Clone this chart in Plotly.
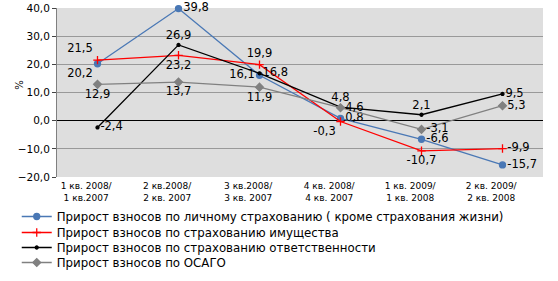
import plotly.graph_objects as go

categories = ["1 кв. 2008/<br>1 кв.2007", "2 кв.2008/<br>2 кв. 2007", "3 кв.2008/<br>3 кв. 2007",
              "4 кв. 2008/<br>4 кв. 2007", "1 кв. 2009/<br>1 кв. 2008", "2 кв. 2009/<br>2 кв. 2008"]
personal = [20.2, 39.8, 16.1, 0.8, -6.6, -15.7]
prop = [21.5, 23.2, 19.9, -0.3, -10.7, -9.9]
liability = [-2.4, 26.9, 16.8, 4.8, 2.1, 9.5]
osago = [12.9, 13.7, 11.9, 4.6, -3.1, 5.3]
names = ["Прирост взносов по личному страхованию ( кроме страхования жизни)",
         "Прирост взносов по страхованию имущества",
         "Прирост взносов по страхованию ответственности",
         "Прирост взносов по ОСАГО"]

def fmt(v):
    return f"{v:.1f}".replace(".", ",")

x = list(range(len(categories)))
fig = go.Figure()
series = [
    (personal, "#4a78b5", "circle", 6, ["bottom left", "middle right", "middle left", "middle right", "middle right", "middle right"]),
    (prop, "#ff0000", "cross-thin", 6, ["top left", "bottom center", "top center", "bottom left", "bottom center", "middle right"]),
    (liability, "#000000", "circle", 3, ["middle right", "top center", "middle right", "top center", "top center", "middle right"]),
    (osago, "#808080", "diamond", 6, ["bottom center", "bottom center", "bottom center", "middle right", "middle right", "middle right"]),
]
legend_ids = ["legend", "legend2", "legend3", "legend4"]
for (vals, col, sym, sz, pos), nm, lg in zip(series, names, legend_ids):
    fig.add_trace(go.Scatter(
        x=x, y=vals, name=nm, mode="lines+markers+text", legend=lg,
        line=dict(color=col, width=1.3),
        marker=dict(symbol=sym, size=sz, color=col, line=dict(color=col, width=1.3)),
        text=[fmt(v) for v in vals], textposition=pos,
        textfont=dict(family="DejaVu Sans", size=11.5, color="#000"),
        cliponaxis=False,
    ))

legend_rows = [214, 230, 245, 260]
H = 281
leg_common = dict(xref="container", yref="container", x=0.03, xanchor="left", yanchor="top",
                  font=dict(size=11.8), itemwidth=30, bgcolor="rgba(0,0,0,0)")
legends = {}
for lg, row in zip(legend_ids, legend_rows):
    legends[lg] = dict(leg_common, y=(H - (row - 12)) / H)

fig.update_layout(
    width=558, height=H,
    margin=dict(l=57, r=15, t=8, b=104, autoexpand=False),
    paper_bgcolor="white", plot_bgcolor="#dedede",
    separators=", ",
    font=dict(family="DejaVu Sans", size=10, color="#000"),
    showlegend=True,
    xaxis=dict(tickmode="array", tickvals=[v - 0.14 for v in x], ticktext=categories,
               range=[-0.5, 5.5], showgrid=False, zeroline=False,
               tickfont=dict(size=9), showline=False, ticklabelstandoff=2),
    yaxis=dict(range=[-20, 40], dtick=10, tickformat=".1f",
               showgrid=True, gridcolor="#999999", gridwidth=1,
               zeroline=True, zerolinecolor="#000", zerolinewidth=1,
               showline=True, linecolor="#808080", ticks="outside", ticklen=4,
               tickfont=dict(size=10.5)),
    annotations=[dict(text="%", xref="paper", yref="paper", x=-0.092, y=0.545,
                      showarrow=False, textangle=-90, font=dict(size=10))],
    **legends,
)
fig.write_html("out.html")
